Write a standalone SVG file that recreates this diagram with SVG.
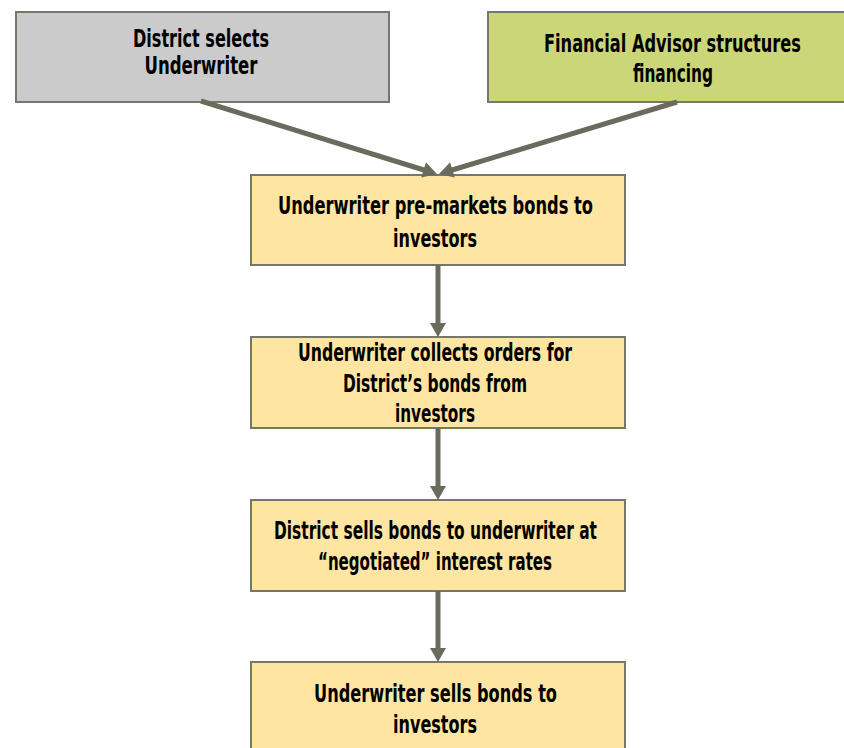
<svg xmlns="http://www.w3.org/2000/svg" width="844" height="748" viewBox="0 0 844 748">
<style>
.box{stroke:#76766a;stroke-width:2}
.gray{fill:#cbcbcb}
.green{fill:#cbd679}
.yellow{fill:#fee5a2}
.t{font-family:"DejaVu Sans Condensed","DejaVu Sans",sans-serif;font-stretch:condensed;font-weight:bold;font-size:25px;fill:#000;text-anchor:middle}
.c{stroke:#6a6b5c;stroke-width:5;fill:none}
</style>
<defs>
<marker id="ah" markerUnits="userSpaceOnUse" markerWidth="16" markerHeight="16" viewBox="0 0 14 16" refX="2" refY="8" orient="auto">
<path d="M0,0 L14,8 L0,16 z" fill="#6a6b5c"/>
</marker>
</defs>
<rect width="844" height="748" fill="#fff"/>
<g id="n1"><rect class="box gray" x="16" y="12" width="373" height="90"/>
<text class="t" x="201" y="47" textLength="136" lengthAdjust="spacingAndGlyphs">District selects</text>
<text class="t" x="201" y="74" textLength="113" lengthAdjust="spacingAndGlyphs">Underwriter</text></g>
<g id="n2"><rect class="box green" x="488" y="12" width="357" height="90"/>
<text class="t" x="672.5" y="52" textLength="257" lengthAdjust="spacingAndGlyphs">Financial Advisor structures</text>
<text class="t" x="673" y="82" textLength="80" lengthAdjust="spacingAndGlyphs">financing</text></g>
<g id="n3"><rect class="box yellow" x="251" y="175" width="374" height="90"/>
<text class="t" x="435.5" y="214" textLength="315" lengthAdjust="spacingAndGlyphs">Underwriter pre-markets bonds to</text>
<text class="t" x="435" y="247" textLength="84" lengthAdjust="spacingAndGlyphs">investors</text></g>
<g id="n4"><rect class="box yellow" x="251" y="337" width="374" height="91"/>
<text class="t" x="435" y="361" textLength="274" lengthAdjust="spacingAndGlyphs">Underwriter collects orders for</text>
<text class="t" x="435" y="392" textLength="184" lengthAdjust="spacingAndGlyphs">District’s bonds from</text>
<text class="t" x="435" y="422" textLength="80" lengthAdjust="spacingAndGlyphs">investors</text></g>
<g id="n5"><rect class="box yellow" x="251" y="500" width="374" height="91"/>
<text class="t" x="435.5" y="539" textLength="323" lengthAdjust="spacingAndGlyphs">District sells bonds to underwriter at</text>
<text class="t" x="435" y="570" textLength="234" lengthAdjust="spacingAndGlyphs">“negotiated” interest rates</text></g>
<g id="n6"><rect class="box yellow" x="251" y="662" width="374" height="92"/>
<text class="t" x="435.5" y="702" textLength="243" lengthAdjust="spacingAndGlyphs">Underwriter sells bonds to</text>
<text class="t" x="435" y="733" textLength="84" lengthAdjust="spacingAndGlyphs">investors</text></g>
<g id="connectors">
<line class="c" x1="201" y1="101" x2="425.5" y2="170.5" marker-end="url(#ah)"/>
<line class="c" x1="677" y1="102" x2="450.5" y2="170.5" marker-end="url(#ah)"/>
<line class="c" x1="438" y1="265" x2="438" y2="325" marker-end="url(#ah)"/>
<line class="c" x1="438" y1="428" x2="438" y2="488" marker-end="url(#ah)"/>
<line class="c" x1="438" y1="591" x2="438" y2="650" marker-end="url(#ah)"/>
</g>
</svg>
